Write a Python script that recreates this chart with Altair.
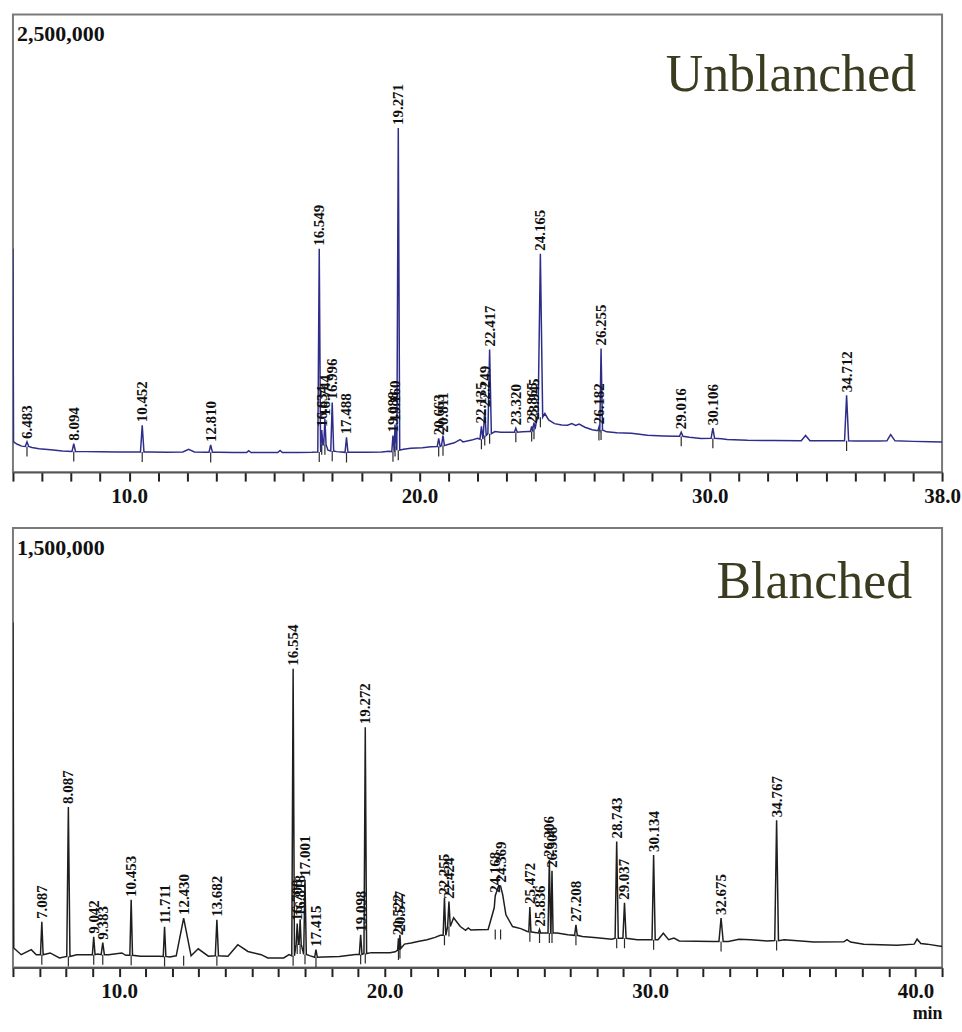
import altair as alt
import pandas as pd

SERIF = "Liberation Serif"

# ---------------- Unblanched (top) ----------------
TOP_PEAK_T = [6.483, 8.094, 10.452, 12.810, 16.549, 16.634, 16.744, 16.996, 17.488,
              19.088, 19.160, 19.271, 20.663, 20.811, 22.135, 22.249, 22.417, 23.320,
              23.865, 23.945, 24.165, 26.182, 26.255, 29.016, 30.106, 34.712]
TOP_PEAK_LABEL = ["6.483", "8.094", "10.452", "12.810", "16.549", "16.634", "16.744", "16.996", "17.488",
                  "19.088", "19.160", "19.271", "20.663", "20.811", "22.135", "22.249", "22.417", "23.320",
                  "23.865", "23.945", "24.165", "26.182", "26.255", "29.016", "30.106", "34.712"]
TOP_PEAK_APEX = [165000, 155000, 256000, 148000, 1220000, 230000, 290000, 380000, 190000,
                 200000, 260000, 1880000, 185000, 200000, 250000, 340000, 670000, 240000,
                 250000, 270000, 1193000, 245000, 675000, 218000, 240000, 420000]
TOP_PEAK_BASE = [140000, 113000, 110000, 108000, 110000, 150000, 150000, 115000, 108000,
                 112000, 140000, 120000, 140000, 145000, 180000, 200000, 210000, 218000,
                 222000, 235000, 300000, 228000, 230000, 196000, 185000, 171000]
TOP_PEAK_HW = [0.06, 0.06, 0.06, 0.06, 0.05, 0.04, 0.04, 0.05, 0.05,
               0.04, 0.04, 0.05, 0.05, 0.05, 0.05, 0.05, 0.06, 0.05,
               0.04, 0.04, 0.08, 0.03, 0.05, 0.06, 0.06, 0.07]
TOP_BASE_T = [6.00, 6.02, 6.15, 6.30, 6.65, 6.9, 7.3, 7.7, 8.5, 9.0, 9.6, 10.2, 10.7, 11.3,
              11.85, 12.05, 12.25, 12.6, 13.1, 13.6, 14.05, 14.12, 14.2, 14.8, 15.12, 15.2,
              15.28, 15.8, 16.3, 16.85, 17.15, 17.3, 17.7, 18.2, 18.7, 18.95, 19.45, 19.7,
              20.1, 20.4, 20.95, 21.2, 21.4, 21.5, 21.8, 22.0, 22.6, 22.8, 23.1, 23.55, 23.75,
              24.03, 24.32, 24.45, 24.65, 24.9, 25.1, 25.25, 25.38, 25.5, 25.7, 25.95, 26.1,
              26.45, 26.8, 27.3, 27.85, 28.4, 28.85, 29.3, 29.7, 30.4, 30.6, 31.3, 32.2,
              33.15, 33.3, 33.45, 34.1, 35.0, 35.8, 36.1, 36.23, 36.38, 37.0, 37.6, 38.0]
TOP_BASE_V = [1220000, 165000, 152000, 142000, 135000, 128000, 122000, 116000, 112000, 111000,
              110000, 110000, 110000, 109000, 110000, 124000, 110000, 108000, 108000, 107000,
              107000, 117000, 107000, 107000, 107000, 118000, 107000, 107000, 108000, 120000,
              112000, 110000, 108000, 108000, 110000, 114000, 125000, 130000, 133000, 138000,
              150000, 160000, 178000, 165000, 175000, 185000, 222000, 218000, 218000, 220000,
              222000, 280000, 320000, 285000, 265000, 258000, 256000, 265000, 255000, 262000,
              245000, 232000, 228000, 220000, 215000, 212000, 202000, 198000, 196000, 190000,
              184000, 182000, 178000, 174000, 173000, 172000, 200000, 172000, 171000, 170000,
              170000, 171000, 205000, 171000, 168000, 166000, 165000]

# ---------------- Blanched (bottom) ----------------
BOT_PEAK_T = [7.087, 8.087, 9.042, 9.383, 10.453, 11.711, 12.430, 13.682, 16.554, 16.708,
              16.818, 17.001, 17.415, 19.098, 19.272, 20.522, 20.577, 22.255, 22.424, 24.168,
              24.369, 25.472, 25.836, 26.206, 26.306, 27.208, 28.743, 29.037, 30.134, 32.675,
              34.767]
BOT_PEAK_LABEL = ["7.087", "8.087", "9.042", "9.383", "10.453", "11.711", "12.430", "13.682", "16.554", "16.708",
                  "16.818", "17.001", "17.415", "19.098", "19.272", "20.522", "20.577", "22.255", "22.424", "24.168",
                  "24.369", "25.472", "25.836", "26.206", "26.306", "27.208", "28.743", "29.037", "30.134", "32.675",
                  "34.767"]
BOT_PEAK_APEX = [156000, 548000, 105000, 85000, 231000, 139000, 169000, 163000, 1020000, 150000,
                 165000, 300000, 61000, 112000, 820000, 100000, 112000, 238000, 225000, 245000,
                 280000, 207000, 130000, 367000, 330000, 146000, 430000, 221000, 384000, 169000,
                 503000]
BOT_PEAK_BASE = [44000, 38000, 44000, 44000, 42000, 38000, 40000, 40000, 40000, 80000,
                 80000, 45000, 35000, 45000, 48000, 60000, 65000, 110000, 140000, 130000,
                 130000, 122000, 118000, 118000, 118000, 110000, 100000, 100000, 95000, 89000,
                 92000]
BOT_PEAK_HW = [0.05, 0.06, 0.05, 0.06, 0.05, 0.05, 0.28, 0.06, 0.05, 0.04,
               0.04, 0.05, 0.05, 0.05, 0.05, 0.03, 0.03, 0.05, 0.05, 0.0,
               0.0, 0.04, 0.04, 0.05, 0.04, 0.05, 0.06, 0.06, 0.06, 0.08,
               0.07]
BOT_BASE_T = [6.00, 6.03, 6.31, 6.69, 6.88, 7.4, 7.75, 8.4, 8.8, 9.2, 9.6, 10.1, 10.25, 10.8,
              11.5, 11.9, 12.98, 13.36, 14.1, 14.47, 14.85, 15.35, 15.6, 16.2, 16.4, 17.2,
              17.7, 18.3, 18.9, 19.5, 20.2, 20.4, 20.75, 21.0, 21.3, 21.6, 21.9, 22.1, 22.6,
              22.85, 23.05, 23.15, 23.25, 23.5, 23.9, 24.13, 24.168, 24.30, 24.369, 24.45,
              24.57, 24.82, 25.13, 25.38, 25.65, 26.0, 26.5, 26.9, 27.45, 28.0, 28.56, 28.9,
              29.52, 29.9, 30.3, 30.5, 30.7, 30.9, 31.1, 32.4, 32.95, 33.35, 33.8, 34.4, 35.06,
              36.17, 37.3, 37.42, 37.55, 38.05, 39.3, 39.95, 40.06, 40.2, 40.44, 41.0]
BOT_BASE_V = [1177000, 67000, 44000, 61000, 44000, 50000, 33000, 44000, 44000, 46000, 44000,
              50000, 42000, 39000, 39000, 36000, 64000, 39000, 39000, 78000, 55000, 44000,
              33000, 33000, 44000, 40000, 36000, 38000, 45000, 51000, 51000, 54000, 80000,
              84000, 90000, 95000, 103000, 110000, 170000, 140000, 127000, 135000, 128000,
              129000, 130000, 204000, 245000, 280000, 278000, 248000, 180000, 140000, 133000,
              123000, 120000, 118000, 118000, 112000, 106000, 102000, 97000, 100000, 95000,
              95000, 95000, 117000, 95000, 101000, 91000, 89000, 89000, 97000, 95000, 91000,
              95000, 87000, 88000, 95000, 87000, 80000, 76000, 80000, 97000, 82000, 80000, 72000]


def trace(base_t, base_v, pt, pa, pb, hw):
    rows = list(zip(base_t, base_v))
    for t, a, b, w in zip(pt, pa, pb, hw):
        if w > 0:
            rows += [(t - w, b), (t, a), (t + w, b)]
    rows.sort()
    return pd.DataFrame(rows, columns=["t", "v"])


def peaks(pt, labels, pa, pb):
    return pd.DataFrame({"t": pt, "label": labels, "apex": pa, "base": pb})


def panel(line_df, peak_df, x_max, y_max, label_ticks, color, h, y_text, title,
          title_x, title_y, depth, axis_title):
    xscale = alt.Scale(domain=[6, x_max], nice=False, zero=False)
    yscale = alt.Scale(domain=[0, y_max], nice=False, zero=False)
    lab = ",".join(str(v) for v in label_ticks)
    axis_kw = dict(
        values=list(range(6, x_max + 1)),
        labelExpr=f"indexof([{lab}], datum.value) >= 0 ? format(datum.value, '.1f') : ''",
        labelFont=SERIF, labelFontWeight="bold", labelFontSize=21, labelColor="#111111",
        labelFlush=False, labelOverlap=False, labelPadding=4,
        ticks=True, tickColor="#222222", tickWidth=2, tickSize=9, tickOpacity=1,
        domainColor="#555555", domainWidth=2, grid=False,
    )
    if axis_title:
        axis_kw.update(title=axis_title, titleFont=SERIF, titleFontWeight="bold",
                       titleFontSize=18, titleColor="#111111", titleAnchor="end",
                       titlePadding=3)
    else:
        axis_kw.update(title=None)
    x = alt.X("t:Q", scale=xscale, axis=alt.Axis(**axis_kw))

    line = alt.Chart(line_df).mark_line(color=color, strokeWidth=1.5, clip=True).encode(
        x=x, y=alt.Y("v:Q", scale=yscale, axis=None))
    marks = alt.Chart(peak_df).transform_calculate(low=f"datum.base - {depth}").mark_rule(
        color="#2a2a2a", strokeWidth=1.2, clip=True).encode(
        x=x, y=alt.Y("base:Q", scale=yscale, axis=None), y2="low:Q")
    labels = alt.Chart(peak_df).mark_text(
        angle=270, align="left", baseline="middle", dx=3, font=SERIF,
        fontWeight="bold", fontSize=15, color="#111111").encode(
        x=x, y=alt.Y("apex:Q", scale=yscale, axis=None), text="label:N")
    ytxt = alt.Chart(pd.DataFrame({"s": [y_text]})).mark_text(
        align="left", baseline="top", font=SERIF, fontWeight="bold", fontSize=22,
        color="#111111").encode(x=alt.value(4), y=alt.value(10), text="s:N")
    ttl = alt.Chart(pd.DataFrame({"s": [title]})).mark_text(
        align="right", baseline="alphabetic", font=SERIF, fontSize=52,
        color="#3b3b1f").encode(x=alt.value(title_x), y=alt.value(title_y), text="s:N")
    return alt.layer(line, marks, labels, ytxt, ttl).properties(width=932, height=h)


top = panel(trace(TOP_BASE_T, TOP_BASE_V, TOP_PEAK_T, TOP_PEAK_APEX, TOP_PEAK_BASE, TOP_PEAK_HW),
            peaks(TOP_PEAK_T, TOP_PEAK_LABEL, TOP_PEAK_APEX, TOP_PEAK_BASE),
            38, 2500000, [10, 20, 30, 38], "#2e2e8a", 459, "2,500,000", "Unblanched",
            906, 77, 55000, None)
bottom = panel(trace(BOT_BASE_T, BOT_BASE_V, BOT_PEAK_T, BOT_PEAK_APEX, BOT_PEAK_BASE, BOT_PEAK_HW),
               peaks(BOT_PEAK_T, BOT_PEAK_LABEL, BOT_PEAK_APEX, BOT_PEAK_BASE),
               41, 1500000, [10, 20, 30, 40], "#1e1e1e", 441, "1,500,000", "Blanched",
               902, 70, 34000, "min")

chart = alt.vconcat(top, bottom, spacing=20).resolve_scale(
    x="independent", y="independent").properties(
    padding={"left": 11, "top": 12, "right": 0, "bottom": 0},
    background="white").configure_view(stroke="#7a7a7a", strokeWidth=2)

chart.save("out.html", embed_options={"renderer": "svg", "actions": False})
